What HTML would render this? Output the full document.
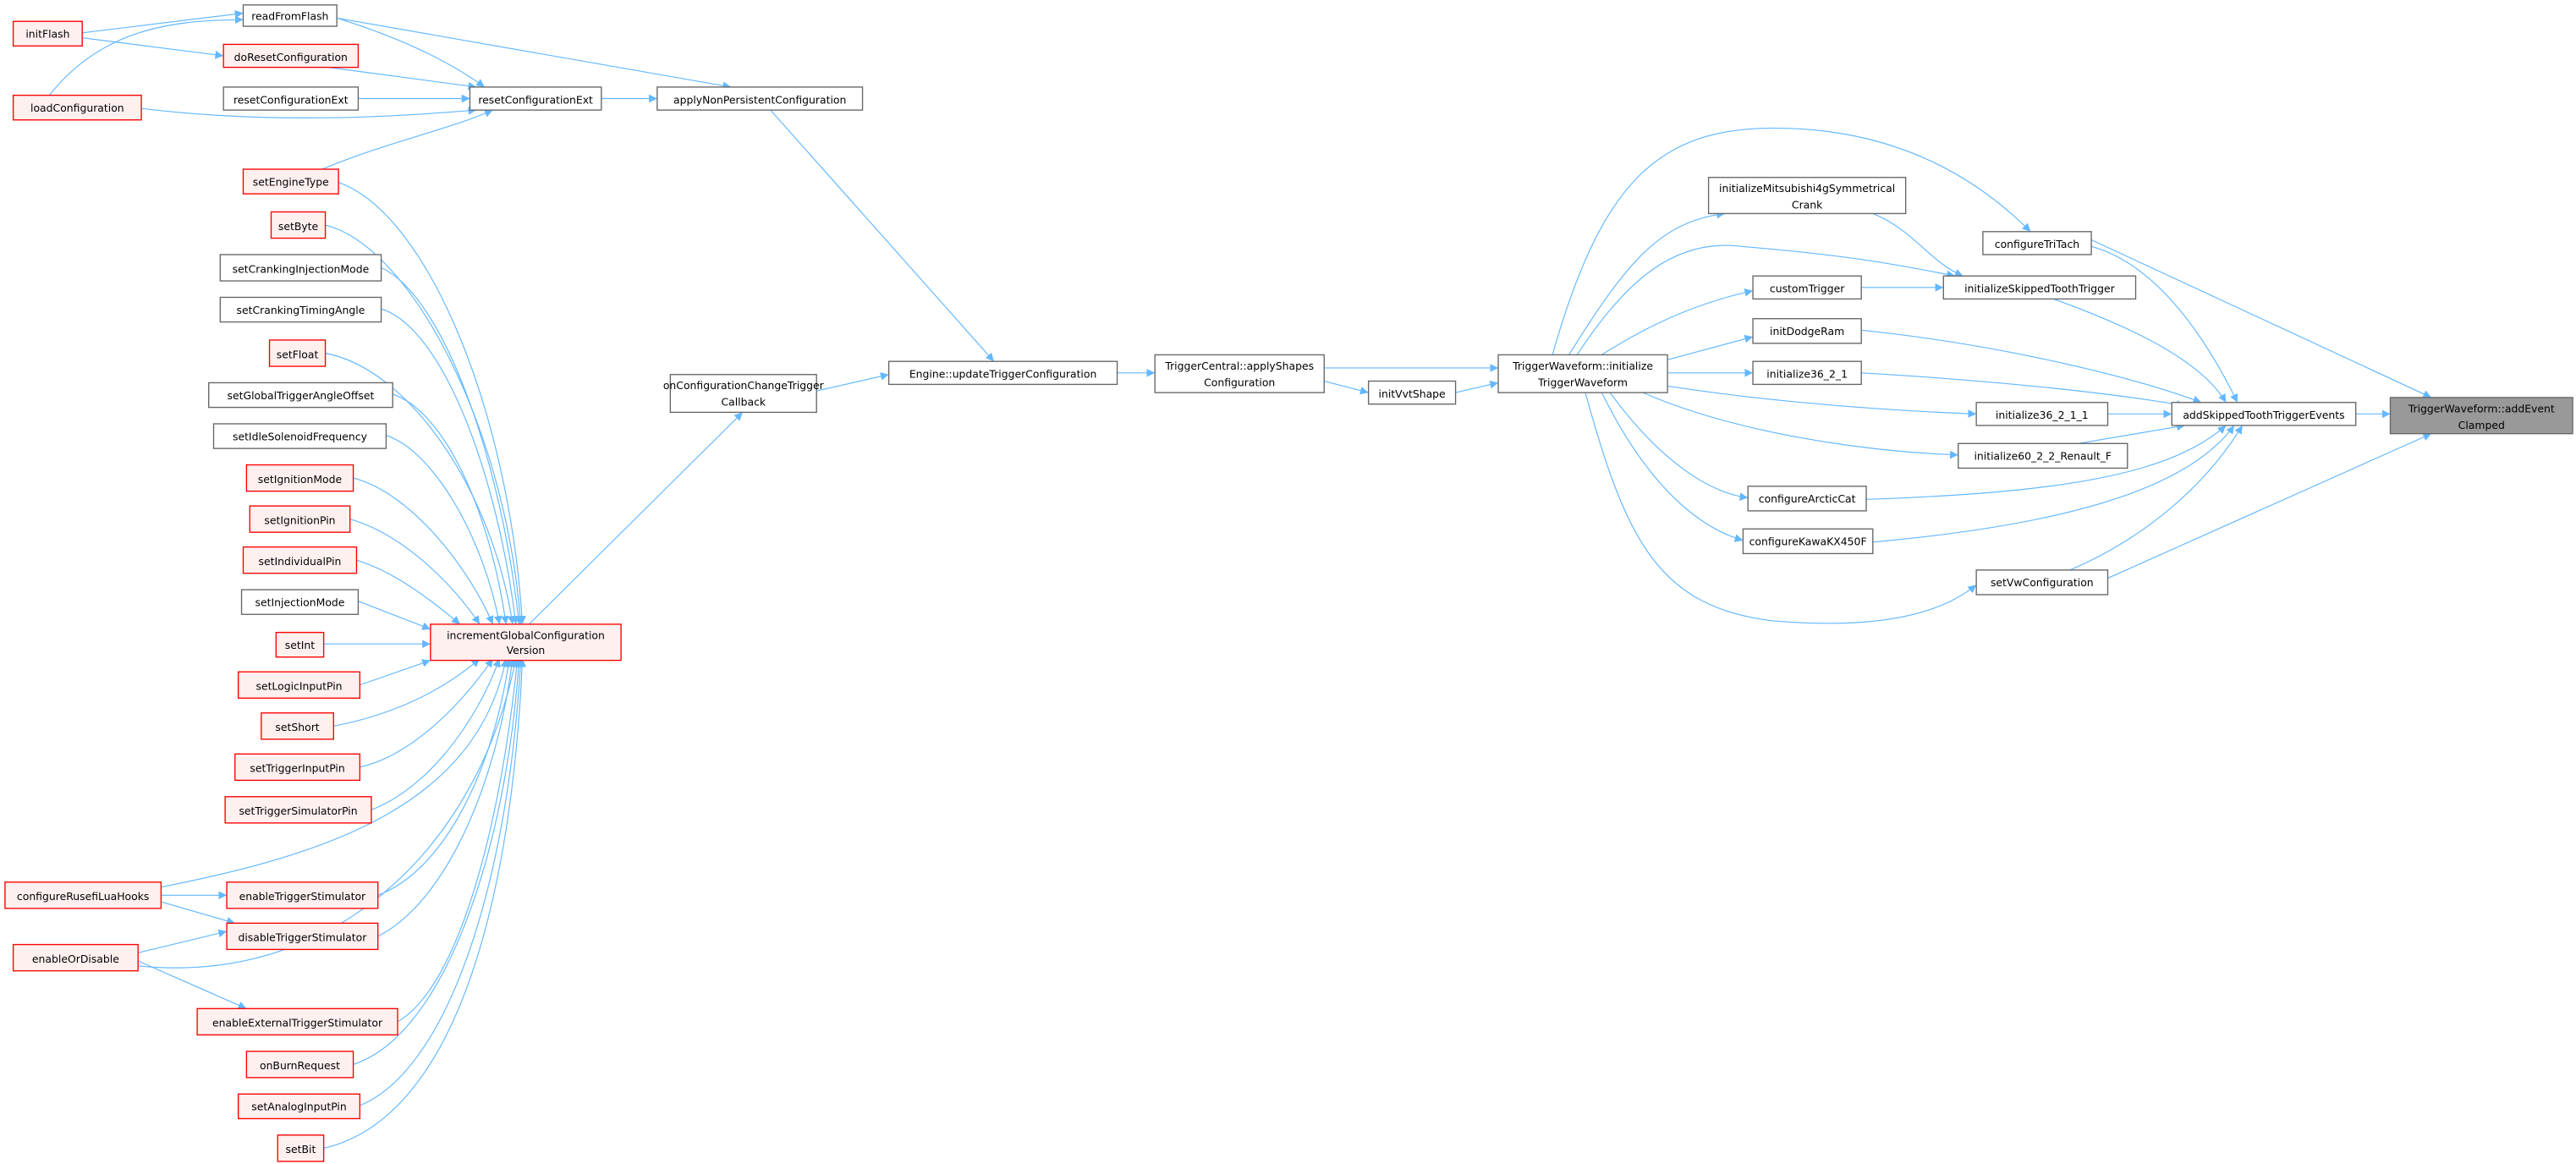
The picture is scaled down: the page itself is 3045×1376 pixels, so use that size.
<!DOCTYPE html>
<html><head><meta charset="utf-8"><style>
html,body{margin:0;padding:0;background:#fff;}
svg{display:block;}
text{font-family:"DejaVu Sans","Liberation Sans",sans-serif;font-size:6.4px;fill:#000;text-anchor:middle;}
.r{fill:#fff0f0;stroke:#ff0000;stroke-width:0.7;}
.g{fill:#fff;stroke:#666;stroke-width:0.7;}
.d{fill:#999;stroke:#666;stroke-width:0.7;}
path{fill:none;stroke:#63b8ff;stroke-width:0.6;}
</style></head><body>
<svg width="3045" height="1376" viewBox="0 0 1568 708.6" xmlns="http://www.w3.org/2000/svg">
<defs><marker id="a" markerUnits="userSpaceOnUse" markerWidth="6" markerHeight="6" refX="5" refY="2.5" orient="auto"><polygon points="0,0 5,2.5 0,5" fill="#63b8ff"/></marker></defs>
<g marker-end="url(#a)">
<path d="M50 20 L148 8"/>
<path d="M50 23 L136 34"/>
<path d="M30 58 C60 20 100 12 148 12"/>
<path d="M86 66 C160 75 230 72 290 67"/>
<path d="M205 11 C240 22 270 35 295 53"/>
<path d="M205 11 L445 53"/>
<path d="M200 41 L290 53"/>
<path d="M218 60 L286 60"/>
<path d="M196 103 C240 85 270 80 300 67"/>
<path d="M366 60 L400 60"/>
<path d="M469 67 L605 220"/>
<path d="M497 238 L541 228"/>
<path d="M680 227 L703 227"/>
<path d="M806 224 L912 224"/>
<path d="M806 232 L833 239"/>
<path d="M886 239 L912 233"/>
<path d="M322 380 L452 251"/>
<path d="M206 111 C260 130 310 250 318 380"/>
<path d="M198 137 C250 150 308 260 317 380"/>
<path d="M232 163 C270 180 305 280 316 380"/>
<path d="M232 188 C270 200 303 290 314 380"/>
<path d="M198 215 C250 225 300 300 312 380"/>
<path d="M239 240 C270 250 298 310 308 380"/>
<path d="M235 265 C265 275 295 330 304 380"/>
<path d="M215 291 C250 300 285 345 300 380"/>
<path d="M213 316 C245 325 275 355 292 380"/>
<path d="M217 341 C240 348 262 365 280 380"/>
<path d="M218 366 L262 383"/>
<path d="M197 392 L262 392"/>
<path d="M219 417 L262 402"/>
<path d="M203 442 C240 435 270 420 292 401"/>
<path d="M219 467 C250 460 280 430 300 401"/>
<path d="M226 493 C260 480 290 440 304 401"/>
<path d="M98 540 C200 520 290 490 308 401"/>
<path d="M230 545 C270 530 300 470 310 401"/>
<path d="M230 570 C270 550 302 480 312 401"/>
<path d="M84 588 C200 600 290 520 314 401"/>
<path d="M242 622 C280 600 305 500 315 401"/>
<path d="M215 648 C270 630 308 520 316 401"/>
<path d="M219 673 C275 650 310 530 317 401"/>
<path d="M197 699 C280 680 312 540 318 401"/>
<path d="M98 545 L138 545"/>
<path d="M98 549 L143 562"/>
<path d="M84 580 L138 567"/>
<path d="M84 585 L150 614"/>
<path d="M945 216 C975 110 1010 78 1080 78 C1150 78 1200 105 1236 141"/>
<path d="M955 216 C990 160 1010 135 1050 130"/>
<path d="M960 216 C990 170 1020 145 1060 150 C1120 155 1150 160 1190 168"/>
<path d="M975 216 C1000 200 1030 185 1067 177"/>
<path d="M1015 219 L1067 205"/>
<path d="M1015 227 L1067 227"/>
<path d="M1015 235 C1080 245 1150 250 1203 252"/>
<path d="M1000 239 C1060 265 1140 275 1192 277"/>
<path d="M980 239 C1010 280 1040 300 1064 303"/>
<path d="M975 239 C1000 290 1030 320 1061 329"/>
<path d="M965 239 C990 330 1010 370 1080 378 C1140 383 1180 375 1203 356"/>
<path d="M1133 175 L1183 175"/>
<path d="M1140 130 C1165 140 1175 160 1195 168"/>
<path d="M1273 150 C1310 160 1340 200 1362 245"/>
<path d="M1250 182 C1300 200 1340 220 1355 245"/>
<path d="M1133 201 C1220 210 1300 230 1340 245"/>
<path d="M1133 227 C1220 232 1290 240 1330 247"/>
<path d="M1283 252 L1322 252"/>
<path d="M1265 270 L1330 259"/>
<path d="M1136 304 C1250 300 1320 290 1355 259"/>
<path d="M1140 330 C1250 320 1330 300 1360 259"/>
<path d="M1260 347 C1300 330 1340 300 1365 259"/>
<path d="M1273 146 L1480 242"/>
<path d="M1434 252 L1455 252"/>
<path d="M1283 352 L1480 264"/>
</g>
<rect class="g" x="148" y="3" width="57" height="13"/><text x="176.5" y="12">readFromFlash</text>
<rect class="r" x="8" y="13" width="42" height="15"/><text x="29" y="23">initFlash</text>
<rect class="r" x="136" y="27" width="82" height="14"/><text x="177" y="37">doResetConfiguration</text>
<rect class="g" x="136" y="53" width="82" height="14"/><text x="177" y="63">resetConfigurationExt</text>
<rect class="g" x="286" y="53" width="80" height="14"/><text x="326" y="63">resetConfigurationExt</text>
<rect class="g" x="400" y="53" width="125" height="14"/><text x="462.5" y="63">applyNonPersistentConfiguration</text>
<rect class="r" x="8" y="58" width="78" height="15"/><text x="47" y="68">loadConfiguration</text>
<rect class="r" x="148" y="103" width="58" height="15"/><text x="177" y="113">setEngineType</text>
<rect class="r" x="165" y="129" width="33" height="16"/><text x="181.5" y="140">setByte</text>
<rect class="g" x="134" y="155" width="98" height="16"/><text x="183" y="166">setCrankingInjectionMode</text>
<rect class="g" x="134" y="181" width="98" height="15"/><text x="183" y="191">setCrankingTimingAngle</text>
<rect class="r" x="164" y="207" width="34" height="16"/><text x="181" y="218">setFloat</text>
<rect class="g" x="127" y="233" width="112" height="15"/><text x="183" y="243">setGlobalTriggerAngleOffset</text>
<rect class="g" x="130" y="258" width="105" height="15"/><text x="182.5" y="268">setIdleSolenoidFrequency</text>
<rect class="r" x="150" y="283" width="65" height="16"/><text x="182.5" y="294">setIgnitionMode</text>
<rect class="r" x="152" y="308" width="61" height="16"/><text x="182.5" y="319">setIgnitionPin</text>
<rect class="r" x="148" y="333" width="69" height="16"/><text x="182.5" y="344">setIndividualPin</text>
<rect class="g" x="147" y="359" width="71" height="15"/><text x="182.5" y="369">setInjectionMode</text>
<rect class="r" x="168" y="385" width="29" height="15"/><text x="182.5" y="395">setInt</text>
<rect class="r" x="145" y="409" width="74" height="16"/><text x="182" y="420">setLogicInputPin</text>
<rect class="r" x="159" y="434" width="44" height="16"/><text x="181" y="445">setShort</text>
<rect class="r" x="143" y="459" width="76" height="16"/><text x="181" y="470">setTriggerInputPin</text>
<rect class="r" x="137" y="485" width="89" height="16"/><text x="181.5" y="496">setTriggerSimulatorPin</text>
<rect class="r" x="138" y="537" width="92" height="16"/><text x="184" y="548">enableTriggerStimulator</text>
<rect class="r" x="138" y="562" width="92" height="16"/><text x="184" y="573">disableTriggerStimulator</text>
<rect class="r" x="120" y="614" width="122" height="16"/><text x="181" y="625">enableExternalTriggerStimulator</text>
<rect class="r" x="150" y="640" width="65" height="16"/><text x="182.5" y="651">onBurnRequest</text>
<rect class="r" x="145" y="666" width="74" height="15"/><text x="182" y="676">setAnalogInputPin</text>
<rect class="r" x="169" y="691" width="28" height="16"/><text x="183" y="702">setBit</text>
<rect class="r" x="3" y="537" width="95" height="16"/><text x="50.5" y="548">configureRusefiLuaHooks</text>
<rect class="r" x="8" y="575" width="76" height="16"/><text x="46" y="586">enableOrDisable</text>
<rect class="r" x="262" y="380" width="116" height="22"/><text x="320" y="389">incrementGlobalConfiguration</text><text x="320" y="398">Version</text>
<rect class="g" x="408" y="228" width="89" height="23"/><text x="452.5" y="237">onConfigurationChangeTrigger</text><text x="452.5" y="247">Callback</text>
<rect class="g" x="541" y="220" width="139" height="14"/><text x="610.5" y="230">Engine::updateTriggerConfiguration</text>
<rect class="g" x="703" y="216" width="103" height="23"/><text x="754.5" y="225">TriggerCentral::applyShapes</text><text x="754.5" y="235">Configuration</text>
<rect class="g" x="833" y="232" width="53" height="14"/><text x="859.5" y="242">initVvtShape</text>
<rect class="g" x="912" y="216" width="103" height="23"/><text x="963.5" y="225">TriggerWaveform::initialize</text><text x="963.5" y="235">TriggerWaveform</text>
<rect class="g" x="1040" y="108" width="120" height="22"/><text x="1100" y="117">initializeMitsubishi4gSymmetrical</text><text x="1100" y="127">Crank</text>
<rect class="g" x="1207" y="141" width="66" height="14"/><text x="1240" y="151">configureTriTach</text>
<rect class="g" x="1067" y="168" width="66" height="14"/><text x="1100" y="178">customTrigger</text>
<rect class="g" x="1183" y="168" width="117" height="14"/><text x="1241.5" y="178">initializeSkippedToothTrigger</text>
<rect class="g" x="1067" y="194" width="66" height="15"/><text x="1100" y="204">initDodgeRam</text>
<rect class="g" x="1067" y="220" width="66" height="14"/><text x="1100" y="230">initialize36_2_1</text>
<rect class="g" x="1203" y="245" width="80" height="14"/><text x="1243" y="255">initialize36_2_1_1</text>
<rect class="g" x="1322" y="245" width="112" height="14"/><text x="1378" y="255">addSkippedToothTriggerEvents</text>
<rect class="d" x="1455" y="242" width="111" height="22"/><text x="1510.5" y="251">TriggerWaveform::addEvent</text><text x="1510.5" y="261">Clamped</text>
<rect class="g" x="1192" y="270" width="103" height="15"/><text x="1243.5" y="280">initialize60_2_2_Renault_F</text>
<rect class="g" x="1064" y="296" width="72" height="15"/><text x="1100" y="306">configureArcticCat</text>
<rect class="g" x="1061" y="322" width="79" height="15"/><text x="1100.5" y="332">configureKawaKX450F</text>
<rect class="g" x="1203" y="347" width="80" height="15"/><text x="1243" y="357">setVwConfiguration</text>
</svg>
</body></html>
